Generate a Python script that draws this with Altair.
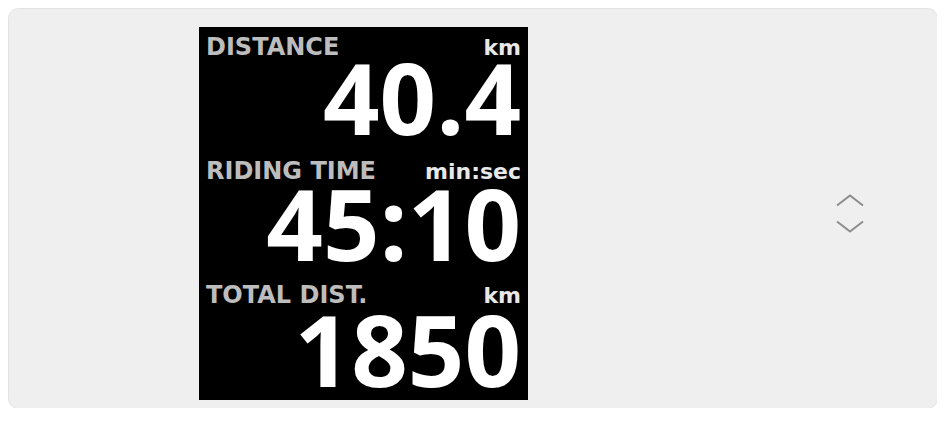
import altair as alt
import pandas as pd

# ---- content -------------------------------------------------------------
labels = ["DISTANCE", "RIDING TIME", "TOTAL DIST."]
units = ["km", "min:sec", "km"]
values = ["40.4", "45:10", "1850"]

# ---- layout (chart pixel space) -----------------------------------------
W, H = 929, 400
OX, OY = 8, 8                      # page margin offset
LEFT = 206 - OX
RIGHT = 521 - OX
label_base = [55 - OY + 124 * i for i in range(3)]
value_base = [135 - OY + 126 * i for i in range(3)]

screen_df = pd.DataFrame({"x": [199 - OX], "x2": [528 - OX],
                          "y": [27 - OY], "y2": [400 - OY]})
label_df = pd.DataFrame({"t": labels, "x": [LEFT] * 3, "y": label_base})
unit_df = pd.DataFrame({"t": units, "x": [RIGHT] * 3, "y": label_base})
value_df = pd.DataFrame({"t": values, "x": [RIGHT] * 3, "y": value_base})
chev_df = pd.DataFrame({"x": [850 - OX, 850 - OX],
                        "y": [200.5 - OY, 226.5 - OY],
                        "s": ["up", "down"]})

xs = alt.Scale(domain=[0, W], nice=False, zero=False)
ys = alt.Scale(domain=[0, H], nice=False, zero=False, reverse=True)
X = lambda f="x": alt.X(f"{f}:Q", scale=xs, axis=None)
Y = lambda f="y": alt.Y(f"{f}:Q", scale=ys, axis=None)

screen = alt.Chart(screen_df).mark_rect(color="#000000").encode(
    x=X(), x2="x2:Q", y=Y(), y2="y2:Q")

lab = alt.Chart(label_df).mark_text(
    align="left", baseline="alphabetic", font="DejaVu Sans",
    fontWeight="bold", fontSize=24, color="#bdbdbd").encode(
    x=X(), y=Y(), text="t:N")

uni = alt.Chart(unit_df).mark_text(
    align="right", baseline="alphabetic", font="DejaVu Sans",
    fontWeight="bold", fontSize=22, color="#e8e8e8").encode(
    x=X(), y=Y(), text="t:N")

val = alt.Chart(value_df).mark_text(
    align="right", baseline="alphabetic", font="Open Sans",
    fontWeight="bold", fontSize=99, color="#ffffff").encode(
    x=X(), y=Y(), text="t:N")

up = alt.Chart(chev_df[chev_df.s == "up"]).mark_point(
    shape="M-1,0.38L0,-0.38L1,0.38", filled=False, size=676,
    stroke="#8c8c8c", strokeWidth=2, opacity=1).encode(x=X(), y=Y())
down = alt.Chart(chev_df[chev_df.s == "down"]).mark_point(
    shape="M-1,-0.38L0,0.38L1,-0.38", filled=False, size=676,
    stroke="#8c8c8c", strokeWidth=2, opacity=1).encode(x=X(), y=Y())

chart = alt.layer(screen, lab, uni, val, up, down).properties(
    width=W, height=H, padding=0, background="#ffffff"
).configure_view(fill="#efefef", stroke="#e3e3e3", cornerRadius=10)

chart.save("out.html", embed_options={"renderer": "svg", "actions": False})
